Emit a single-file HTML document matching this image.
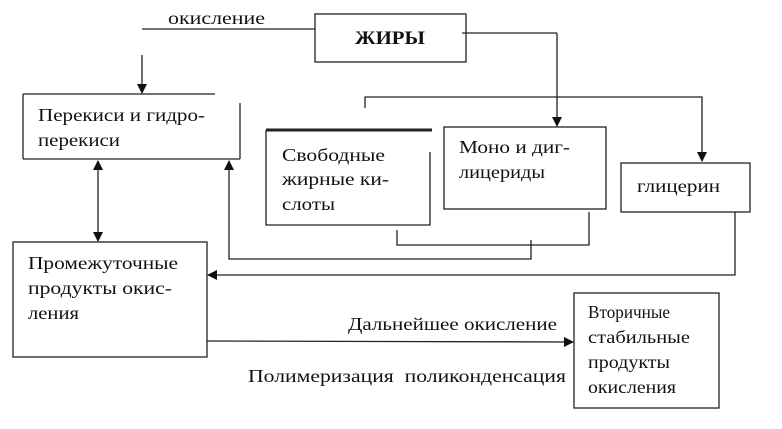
<!DOCTYPE html>
<html><head><meta charset="utf-8"><style>
html,body{margin:0;padding:0;background:#fff;}
svg text{font-family:"Liberation Serif","DejaVu Serif",serif;fill:#111;}
</style></head><body>
<svg width="782" height="424" viewBox="0 0 782 424" xmlns="http://www.w3.org/2000/svg">
<defs>
<marker id="a" markerWidth="10" markerHeight="10" refX="9" refY="5" orient="auto" markerUnits="userSpaceOnUse">
<path d="M0,0 L10,5 L0,10 z" fill="#111"/></marker>
<marker id="s" markerWidth="10" markerHeight="10" refX="1" refY="5" orient="auto" markerUnits="userSpaceOnUse">
<path d="M10,0 L0,5 L10,10 z" fill="#111"/></marker>
</defs>
<rect width="782" height="424" fill="#fff"/>
<g stroke="#222" stroke-width="1.3" fill="none">
<rect x="315" y="14" width="151" height="48"/>
<line x1="142" y1="29" x2="315" y2="29"/>
<line x1="462" y1="33" x2="557" y2="33"/>
<line x1="557" y1="33" x2="557" y2="126" marker-end="url(#a)"/>
<line x1="142" y1="55" x2="142" y2="93" marker-end="url(#a)"/>
<line x1="23" y1="94" x2="215" y2="94"/>
<line x1="23" y1="94" x2="23" y2="159"/>
<line x1="23" y1="159" x2="240" y2="159"/>
<line x1="240" y1="103" x2="240" y2="159"/>
<polyline points="365,108 365,97 702,97 702,161" marker-end="url(#a)"/>
<line x1="266" y1="130" x2="432" y2="130" stroke-width="3"/>
<polyline points="266,130 266,225 430,225 430,152"/>
<rect x="444" y="127" width="162" height="82"/>
<rect x="621" y="163" width="129" height="49"/>
<polyline points="589,212 589,245 397,245 397,230"/>
<polyline points="531,240 531,259 229,259 229,161" marker-end="url(#a)"/>
<polyline points="735,212 735,275 208,275" marker-end="url(#a)"/>
<line x1="98" y1="161" x2="98" y2="241" marker-start="url(#s)" marker-end="url(#a)"/>
<rect x="13" y="242" width="194" height="115"/>
<line x1="207" y1="341" x2="573" y2="342" marker-end="url(#a)"/>
<rect x="574" y="293" width="145" height="115"/>
</g>
<g font-size="18">
<text x="168" y="24" textLength="97" lengthAdjust="spacingAndGlyphs">окисление</text>
<text x="355" y="44" font-weight="bold" font-size="19" textLength="70" lengthAdjust="spacingAndGlyphs">ЖИРЫ</text>
<text x="38" y="121" textLength="167" lengthAdjust="spacingAndGlyphs">Перекиси и гидро-</text>
<text x="38" y="146" textLength="82" lengthAdjust="spacingAndGlyphs">перекиси</text>
<text x="282" y="161" textLength="103" lengthAdjust="spacingAndGlyphs">Свободные</text>
<text x="282" y="185" textLength="107" lengthAdjust="spacingAndGlyphs">жирные ки-</text>
<text x="282" y="210" textLength="53" lengthAdjust="spacingAndGlyphs">слоты</text>
<text x="459" y="153" textLength="111" lengthAdjust="spacingAndGlyphs">Моно и диг-</text>
<text x="459" y="178" textLength="86" lengthAdjust="spacingAndGlyphs">лицериды</text>
<text x="637" y="192" textLength="83" lengthAdjust="spacingAndGlyphs">глицерин</text>
<text x="28" y="269" textLength="150" lengthAdjust="spacingAndGlyphs">Промежуточные</text>
<text x="28" y="294" textLength="144" lengthAdjust="spacingAndGlyphs">продукты окис-</text>
<text x="28" y="319" textLength="51" lengthAdjust="spacingAndGlyphs">ления</text>
<text x="348" y="330" textLength="209" lengthAdjust="spacingAndGlyphs">Дальнейшее окисление</text>
<text x="248" y="382" textLength="318" lengthAdjust="spacingAndGlyphs">Полимеризация&#160;&#160;поликонденсация</text>
<text x="588" y="318" textLength="82" lengthAdjust="spacingAndGlyphs">Вторичные</text>
<text x="588" y="343" textLength="102" lengthAdjust="spacingAndGlyphs">стабильные</text>
<text x="588" y="368" textLength="82" lengthAdjust="spacingAndGlyphs">продукты</text>
<text x="588" y="393" textLength="88" lengthAdjust="spacingAndGlyphs">окисления</text>
</g>
</svg>
</body></html>
